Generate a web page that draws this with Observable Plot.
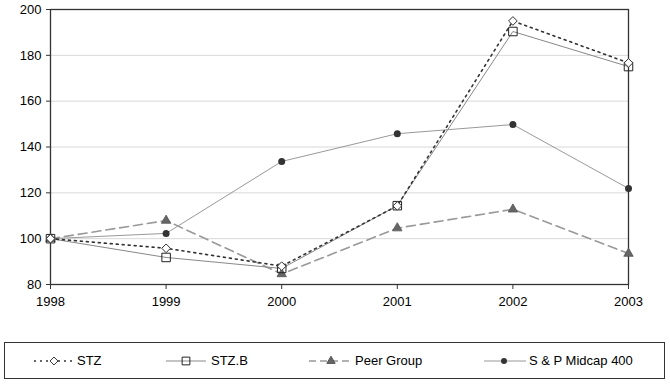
<!DOCTYPE html>
<html><head><meta charset="utf-8">
<script src="https://cdn.jsdelivr.net/npm/d3@7"></script>
<script src="https://cdn.jsdelivr.net/npm/@observablehq/plot@0.6"></script>
<style>
body{margin:0;background:#fff;font-family:"Liberation Sans",Arial,sans-serif;}
#legend{position:absolute;left:4px;top:342px;width:661px;height:37px;border:1px solid #333;box-sizing:border-box;font-size:13px;color:#000;}
.sample{position:absolute;top:10px;}
.lab{position:absolute;top:10px;line-height:15px;white-space:nowrap;}
</style></head><body>
<div id="chart"></div>
<div id="legend"></div>
<script>
const years = [1998, 1999, 2000, 2001, 2002, 2003];
const stz = [100, 95.8, 88, 114.3, 195, 176.7];
const stzb = [100, 91.8, 87, 114.4, 190.4, 175.1];
const peer = [100, 107.9, 84.6, 104.6, 112.8, 93.5];
const spm = [100, 102.3, 133.7, 145.8, 149.8, 121.9];
const yTicks = [80, 100, 120, 140, 160, 180, 200];
const names = ["STZ", "STZ.B", "Peer Group", "S & P Midcap 400"];

const rows = (vals) => years.map((y, i) => ({year: y, value: vals[i]}));
const dStz = rows(stz), dStzb = rows(stzb), dPeer = rows(peer), dSpm = rows(spm);

const chart = Plot.plot({
  width: 670, height: 310,
  marginLeft: 50, marginRight: 42, marginTop: 9, marginBottom: 26,
  style: {fontFamily: "'Liberation Sans', Arial, sans-serif", fontSize: "13px", color: "#000", background: "#fff"},
  x: {domain: [1998, 2003], ticks: years, tickFormat: "d", label: null},
  y: {domain: [80, 200], ticks: yTicks, label: null},
  marks: [
    Plot.gridY(yTicks.slice(1, -1), {stroke: "#d8d8d8", strokeOpacity: 1}),
    Plot.frame({stroke: "#333", strokeWidth: 1.3}),
    Plot.axisY({ticks: yTicks, tickSize: 4, tickPadding: 5, stroke: "#333", fontSize: 13}),
    Plot.axisX({ticks: years, tickSize: 5, tickPadding: 7, tickFormat: "d", stroke: "#333", fontSize: 13}),
    Plot.line(dSpm, {x: "year", y: "value", stroke: "#999", strokeWidth: 1}),
    Plot.line(dPeer, {x: "year", y: "value", stroke: "#999", strokeWidth: 1.6, strokeDasharray: "9,5"}),
    Plot.line(dStzb, {x: "year", y: "value", stroke: "#888", strokeWidth: 1}),
    Plot.line(dStz, {x: "year", y: "value", stroke: "#333", strokeWidth: 1.6, strokeDasharray: "2,4"}),
    Plot.dot(dSpm, {x: "year", y: "value", symbol: "circle", r: 3.5, fill: "#333", stroke: "none"}),
    Plot.dot(dPeer, {x: "year", y: "value", symbol: "triangle", r: 3.5, fill: "#666", stroke: "#555", strokeWidth: 0.8}),
    Plot.dot(dStzb, {x: "year", y: "value", symbol: "square", r: 4.8, fill: "none", stroke: "#222", strokeWidth: 1}),
    Plot.dot(dStz, {x: "year", y: "value", symbol: "diamond2", r: 3.9, fill: "#fff", stroke: "#333", strokeWidth: 1})
  ]
});
document.getElementById("chart").appendChild(chart);

// legend
const legend = d3.select("#legend");
const items = [
  {name: names[0], x0: 29, x1: 68, sx: 49, tx: 72, stroke: "#333", dash: "2,4", width: 1.6, symbol: d3.symbolDiamond2, fill: "#fff", sstroke: "#333", size: 40},
  {name: names[1], x0: 161, x1: 201, sx: 181, tx: 206, stroke: "#888", dash: null, width: 1, symbol: d3.symbolSquare, fill: "none", sstroke: "#222", size: 60},
  {name: names[2], x0: 304, x1: 344, sx: 326, tx: 350, stroke: "#999", dash: "7,4", width: 1.6, symbol: d3.symbolTriangle, fill: "#666", sstroke: "#555", size: 30},
  {name: names[3], x0: 479, x1: 521, sx: 499, tx: 524, stroke: "#999", dash: null, width: 1, symbol: d3.symbolCircle, fill: "#333", sstroke: "none", size: 28}
];
for (const it of items) {
  const svg = legend.append("svg").attr("class", "sample")
    .style("left", it.x0 + "px").attr("width", it.x1 - it.x0).attr("height", 16);
  svg.append("line").attr("x1", 0).attr("x2", it.x1 - it.x0).attr("y1", 8).attr("y2", 8)
    .attr("stroke", it.stroke).attr("stroke-width", it.width).attr("stroke-dasharray", it.dash);
  svg.append("path").attr("d", d3.symbol(it.symbol, it.size)())
    .attr("transform", `translate(${it.sx - it.x0},8)`)
    .attr("fill", it.fill).attr("stroke", it.sstroke);
  legend.append("div").attr("class", "lab").style("left", it.tx + "px").text(it.name);
}
</script>
</body></html>
